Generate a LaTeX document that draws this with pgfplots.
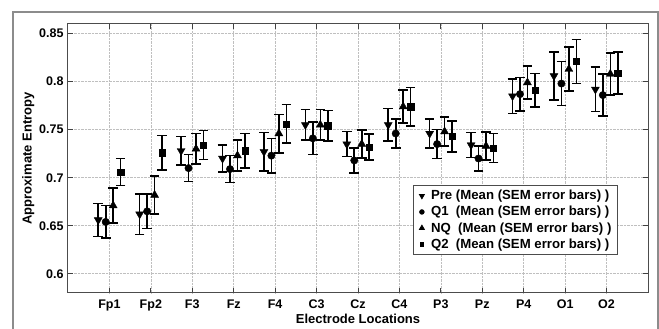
\documentclass[border=0pt]{standalone}
\usepackage{fontspec}
\setmainfont{Liberation Sans}
\usepackage{pgfplots}
\usepackage{pgfplotstable}
\pgfplotsset{compat=1.18}
\pgfplotstableread{
idx pre preE q1 q1E nq nqE q2 q2E
1 0.656 0.017 0.654 0.017 0.671 0.018 0.706 0.014
2 0.662 0.021 0.665 0.018 0.682 0.020 0.726 0.018
3 0.728 0.015 0.710 0.014 0.730 0.016 0.734 0.015
4 0.720 0.014 0.709 0.014 0.723 0.016 0.728 0.018
5 0.727 0.020 0.723 0.018 0.746 0.020 0.756 0.020
6 0.755 0.016 0.741 0.017 0.755 0.016 0.754 0.016
7 0.735 0.013 0.718 0.013 0.735 0.0145 0.732 0.0135
8 0.755 0.017 0.746 0.015 0.774 0.017 0.774 0.020
9 0.746 0.015 0.735 0.015 0.748 0.015 0.743 0.016
10 0.734 0.013 0.720 0.013 0.733 0.0145 0.731 0.015
11 0.785 0.018 0.787 0.0175 0.799 0.017 0.791 0.0175
12 0.806 0.025 0.798 0.023 0.813 0.023 0.821 0.023
13 0.792 0.023 0.786 0.022 0.808 0.022 0.809 0.022
}\datatable
\begin{document}
\begin{tikzpicture}[x=1pt,y=1pt]
\useasboundingbox (0,0) rectangle (659,329);
\draw[gray!90, line width=1.2pt] (13,-10) rectangle (658,317);
\begin{axis}[
  at={(68pt,36pt)}, anchor=south west,
  width=580pt, height=269pt, scale only axis,
  xmin=0, xmax=14, ymin=0.58, ymax=0.86,
  xtick={1,...,13},
  xticklabels={Fp1,Fp2,F3,Fz,F4,C3,Cz,C4,P3,Pz,P4,O1,O2},
  ytick={0.6,0.65,0.7,0.75,0.8,0.85},
  yticklabels={0.6,0.65,0.7,0.75,0.8,0.85},
  tick pos=both, tick align=inside, major tick length=5pt,
  tick style={black!75, line width=0.8pt},
  axis line style={black!70, line width=1pt},
  grid=major, major grid style={densely dotted, black!25, line width=0.6pt},
  /pgf/number format/assume math mode=true,
  tick label style={font=\fontsize{12.5}{14}\selectfont\bfseries},
  xticklabel style={yshift=-3pt},
  yticklabel style={xshift=-1pt},
  label style={font=\fontsize{13}{15}\selectfont\bfseries},
  xlabel={Electrode Locations},
  ylabel={Approximate Entropy},
  xlabel style={yshift=4pt},
  ylabel style={yshift=-2pt},
  legend style={at={(0.948,0.143)}, anchor=south east, draw=black!70, line width=0.8pt,
    font=\fontsize{13.2}{14}\selectfont\bfseries, row sep=1pt, inner xsep=4pt, inner ysep=2.5pt},
  legend cell align=left,
  legend image code/.code={%
    \path[draw=none, fill=none] (0cm,0cm) -- (0.42cm,0cm);
    \draw[#1, only marks, every mark/.append style={scale=0.62}] plot coordinates {(0.17cm,0cm)};},
  error bars/error bar style={line width=1.6pt, black},
  error bars/error mark options={rotate=90, mark size=4.8pt, line width=1.6pt, black},
]
\addplot[only marks, mark=triangle*, mark size=4.6pt, mark options={rotate=180, fill=black}, black,
  error bars/.cd, y dir=both, y explicit]
  table[x expr=\thisrow{idx}-0.27, y=pre, y error=preE] {\datatable};
\addlegendentry{Pre (Mean (SEM error bars) )}
\addplot[only marks, mark=*, mark size=3.7pt, black,
  error bars/.cd, y dir=both, y explicit]
  table[x expr=\thisrow{idx}-0.09, y=q1, y error=q1E] {\datatable};
\addlegendentry{Q1\ \ (Mean (SEM error bars) )}
\addplot[only marks, mark=triangle*, mark size=4.6pt, black,
  error bars/.cd, y dir=both, y explicit]
  table[x expr=\thisrow{idx}+0.09, y=nq, y error=nqE] {\datatable};
\addlegendentry{NQ\ \ (Mean (SEM error bars) )}
\addplot[only marks, mark=square*, mark size=3.2pt, black,
  error bars/.cd, y dir=both, y explicit]
  table[x expr=\thisrow{idx}+0.27, y=q2, y error=q2E] {\datatable};
\addlegendentry{Q2\ \ (Mean (SEM error bars) )}
\end{axis}
\end{tikzpicture}
\end{document}
